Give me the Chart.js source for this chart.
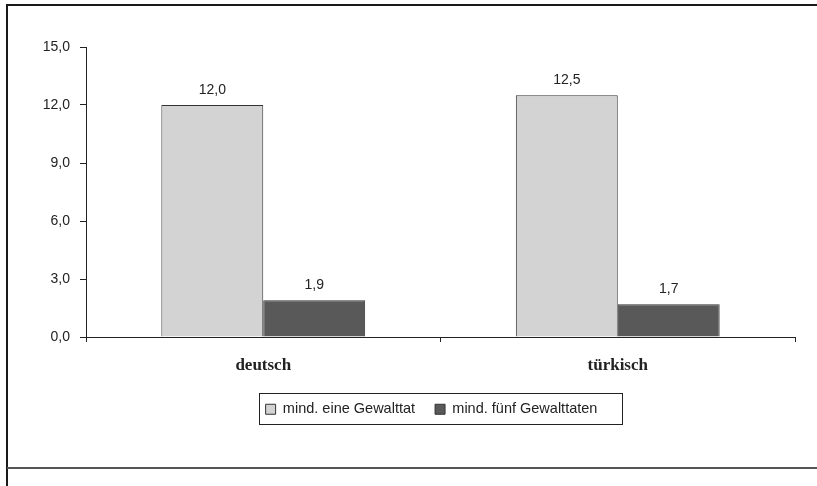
<!DOCTYPE html>
<html>
<head>
<meta charset="utf-8">
<script src="https://cdn.jsdelivr.net/npm/chart.js@4"></script>
<style>
  html, body { margin: 0; padding: 0; background: #fff; }
  #c { display: block; }
</style>
</head>
<body>
<canvas id="c" width="817" height="486"></canvas>
<script>
const categories = ['deutsch', 'türkisch'];
const seriesNames = ['mind. eine Gewalttat', 'mind. fünf Gewalttaten'];
const seriesOne = [12.0, 12.5];
const seriesFive = [1.9, 1.7];
const yTicks = [0, 3, 6, 9, 12, 15];

const NUM_FONT = '"Liberation Sans", Arial, sans-serif';
const fmt = v => v.toFixed(1).replace('.', ',');

const framePlugin = {
  id: 'frame',
  beforeDraw(chart) {
    const ctx = chart.ctx;
    ctx.save();
    ctx.fillStyle = '#fff';
    ctx.fillRect(0, 0, chart.width, chart.height);
    ctx.lineWidth = 2;
    ctx.strokeStyle = '#1a1a1a';
    ctx.beginPath();
    ctx.moveTo(7, 486); ctx.lineTo(7, 5); ctx.lineTo(817, 5);
    ctx.stroke();
    ctx.strokeStyle = '#555';
    ctx.beginPath();
    ctx.moveTo(7, 468); ctx.lineTo(817, 468);
    ctx.stroke();
    ctx.restore();
  }
};

const valueLabels = {
  id: 'valueLabels',
  afterDatasetsDraw(chart) {
    const ctx = chart.ctx;
    ctx.save();
    ctx.font = '14px ' + NUM_FONT;
    ctx.fillStyle = '#222';
    ctx.textAlign = 'center';
    ctx.textBaseline = 'alphabetic';
    chart.data.datasets.forEach((ds, i) => {
      chart.getDatasetMeta(i).data.forEach((bar, j) => {
        ctx.fillText(fmt(ds.data[j]), bar.x, bar.y - 11);
      });
    });
    ctx.restore();
  }
};

const legendShift = {
  id: 'legendShift',
  afterLayout(chart) {
    if (chart.legend) { chart.legend.left -= 9; chart.legend.right -= 9; }
  }
};

const legendBox = {
  id: 'legendBox',
  afterDraw(chart) {
    const lg = chart.legend;
    if (!lg || !lg.legendHitBoxes || !lg.legendHitBoxes.length) return;
    const hb = lg.legendHitBoxes;
    const left = Math.min(...hb.map(h => h.left)) - 7;
    const right = Math.max(...hb.map(h => h.left + h.width)) + 24;
    const cy = hb[0].top + hb[0].height / 2;
    const ctx = chart.ctx;
    ctx.save();
    ctx.strokeStyle = '#222';
    ctx.lineWidth = 1;
    ctx.strokeRect(Math.round(left) + 0.5, Math.round(cy - 16) + 0.5, Math.round(right - left), 31);
    ctx.restore();
  }
};

new Chart(document.getElementById('c'), {
  type: 'bar',
  data: {
    labels: categories,
    datasets: [
      { label: seriesNames[0], data: seriesOne, backgroundColor: '#d3d3d3', borderColor: '#333', borderWidth: 1 },
      { label: seriesNames[1], data: seriesFive, backgroundColor: '#595959', borderColor: '#333', borderWidth: 1 }
    ]
  },
  options: {
    responsive: false,
    animation: false,
    devicePixelRatio: 1,
    layout: { padding: { left: 0, right: 22, top: 47, bottom: 59.5 } },
    datasets: { bar: { categoryPercentage: 0.575, barPercentage: 1.0 } },
    plugins: {
      tooltip: { enabled: false },
      legend: {
        display: true,
        position: 'bottom',
        fullSize: false,
        labels: {
          color: '#222',
          font: { family: NUM_FONT, size: 14.5 },
          boxWidth: 10,
          boxHeight: 10,
          padding: 20
        }
      }
    },
    scales: {
      x: {
        offset: true,
        grid: { display: true, offset: true, drawOnChartArea: false, drawTicks: true, tickLength: 5, color: '#222', lineWidth: 1 },
        border: { display: true, color: '#222', width: 1 },
        ticks: { color: '#222', padding: 13, font: { family: '"Liberation Serif", "Times New Roman", serif', size: 17, weight: 'bold' } },
        afterFit(s) { s.height = 45; }
      },
      y: {
        min: 0,
        max: 15,
        afterBuildTicks(s) { s.ticks = yTicks.map(v => ({ value: v })); },
        grid: { display: true, drawOnChartArea: false, drawTicks: true, tickLength: 6, color: '#222', lineWidth: 1 },
        border: { display: true, color: '#222', width: 1 },
        ticks: { color: '#222', padding: 10, font: { family: NUM_FONT, size: 14 }, callback: v => fmt(v) },
        afterFit(s) { s.width = 86; }
      }
    }
  },
  plugins: [framePlugin, valueLabels, legendShift, legendBox]
});
</script>
</body>
</html>
